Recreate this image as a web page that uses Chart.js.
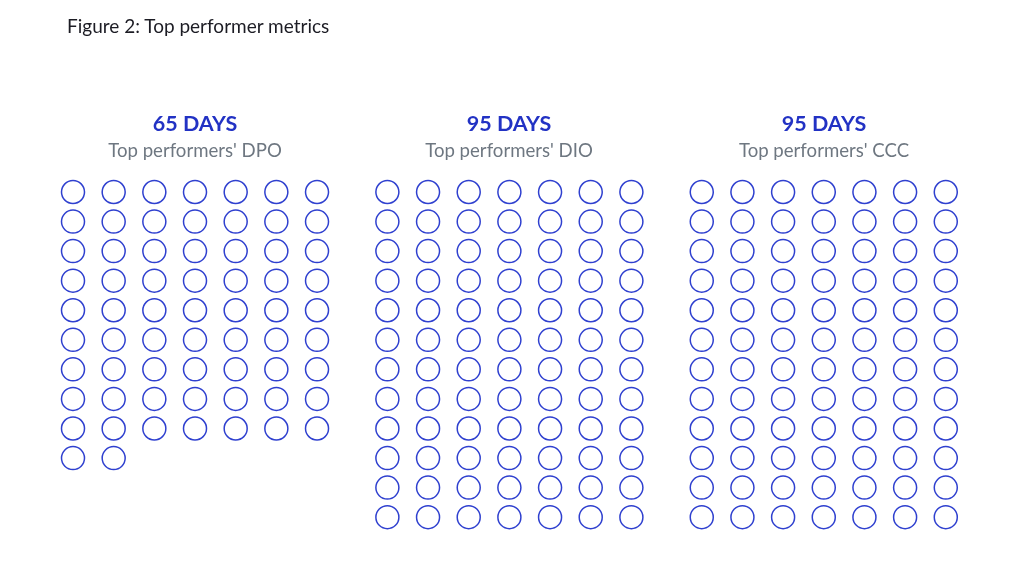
<!DOCTYPE html>
<html>
<head>
<meta charset="utf-8">
<script src="https://cdn.jsdelivr.net/npm/chart.js@4"></script>
<style>
  html, body { margin: 0; padding: 0; background: #fff; }
  #wrap { position: relative; width: 1024px; height: 570px; overflow: hidden; }
  #chart { position: absolute; left: 0; top: 0; }
  .fig-title { position: absolute; left: 67px; top: 14px; font: 19px Lato, sans-serif; color: #1c1c24; white-space: nowrap; }
  .head { position: absolute; transform: translateX(-50%); text-align: center; white-space: nowrap; font-family: Lato, sans-serif; }
  .head .big { font-size: 21.5px; font-weight: 700; color: #2232c4; line-height: 24px; }
  .head .sub { font-size: 18.6px; color: #6e7781; line-height: 24px; margin-top: 3px; }
</style>
</head>
<body>
<div id="wrap">
  <canvas id="chart" width="1024" height="570"></canvas>
  <div class="fig-title">Figure 2: Top performer metrics</div>
</div>
<script>
// panel data
const panelTitles = ['65 DAYS', '95 DAYS', '95 DAYS'];
const panelSubtitles = ["Top performers' DPO", "Top performers' DIO", "Top performers' CCC"];
const circleCounts = [65, 84, 84];
const columnsPerPanel = 7;

// layout (in grid units: one unit = one circle step)
const panelStep = 7.73;
const headCenters = [195, 509, 824];

const wrap = document.getElementById('wrap');
panelTitles.forEach((t, i) => {
  const d = document.createElement('div');
  d.className = 'head';
  d.style.left = headCenters[i] + 'px';
  d.style.top = '111px';
  d.innerHTML = '<div class="big"></div><div class="sub"></div>';
  d.querySelector('.big').textContent = t;
  d.querySelector('.sub').textContent = panelSubtitles[i];
  wrap.appendChild(d);
});

const datasets = circleCounts.map((count, p) => {
  const pts = [];
  for (let i = 0; i < count; i++) {
    pts.push({ x: p * panelStep + (i % columnsPerPanel), y: Math.floor(i / columnsPerPanel) });
  }
  return {
    label: panelSubtitles[p],
    data: pts,
    pointStyle: 'circle',
    pointRadius: 11.5,
    pointHoverRadius: 11.5,
    pointBorderWidth: 1.5,
    pointBorderColor: '#2f40cf',
    pointBackgroundColor: 'rgba(255,255,255,0)'
  };
});

// column spacing ~40.67px, row spacing ~29.56px, first circle at (73,192)
const colPx = 40.67, rowPx = 29.56;

new Chart(document.getElementById('chart').getContext('2d'), {
  type: 'scatter',
  data: { datasets },
  options: {
    responsive: false,
    animation: false,
    layout: { padding: 0, autoPadding: false },
    plugins: { legend: { display: false }, tooltip: { enabled: false } },
    scales: {
      x: { type: 'linear', display: false, min: -73 / colPx, max: (1024 - 73) / colPx },
      y: { type: 'linear', display: false, reverse: true, min: -192 / rowPx, max: (570 - 192) / rowPx }
    }
  }
});
</script>
</body>
</html>
